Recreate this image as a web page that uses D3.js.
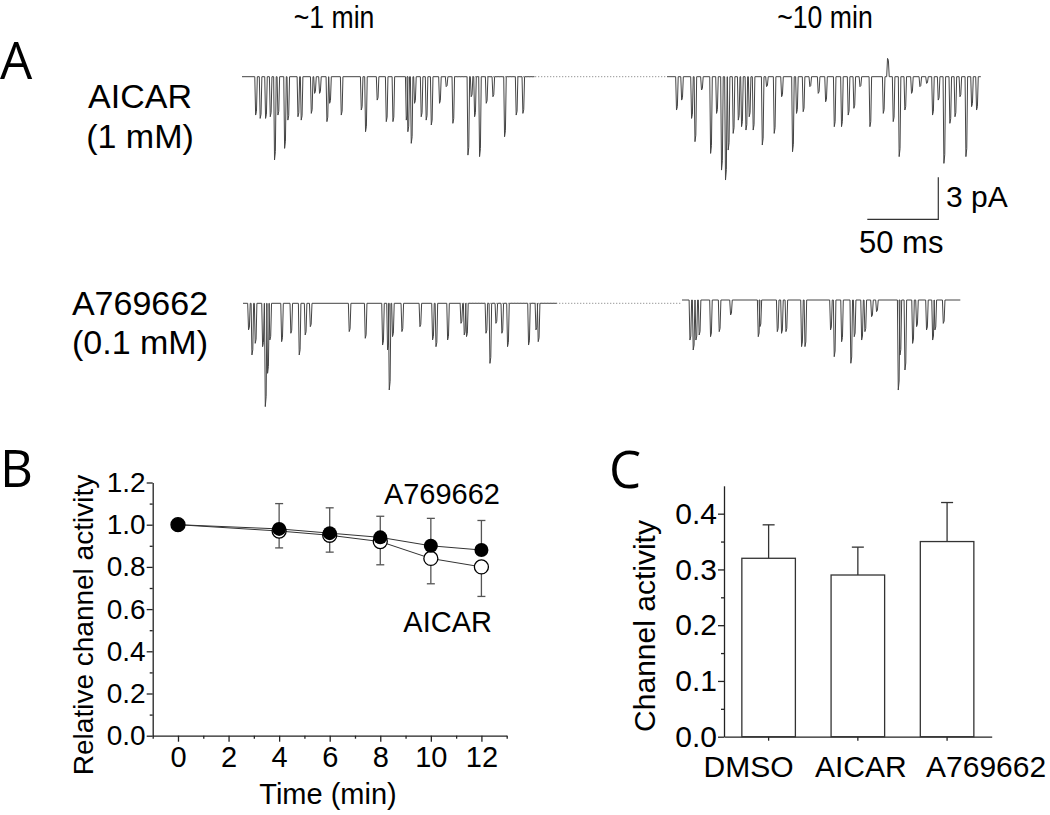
<!DOCTYPE html>
<html>
<head>
<meta charset="utf-8">
<script src="https://cdn.jsdelivr.net/npm/d3@7"></script>
<style>
  body { margin: 0; background: #fff; }
  svg { display: block; }
  text { font-family: "Liberation Sans", Arial, sans-serif; fill: #000; }
</style>
</head>
<body>
<script>
// ---- panel A: single channel traces, spikes as [time ms, amplitude pA] ----
const aicar1min = [[9.9,2.74],[13.1,2.98],[16.9,2.98],[20.2,2.86],[23.2,5.95],[25.6,2.74],[30.3,5.12],[32.6,3.1],
  [39.7,2.86],[42.0,3.1],[49.1,2.62],[51.4,1.19],[54.9,1.19],[60.1,3.21],[62.0,1.9],[70.2,2.74],[84.3,2.38],[87.3,3.93],
  [95.5,1.67],[101.9,3.21],[106.6,3.21],[116.0,3.1],[117.1,3.93],[119.5,4.76],[121.8,1.9],[126.5,2.86],[130.0,3.1],
  [133.6,3.45],[139.4,1.9],[144.1,0.71],[148.8,3.33],[159.4,5.6],[161.7,1.43],[164.1,2.86],[167.6,5.71],[172.3,1.9],
  [177.0,1.43],[185.2,4.29],[193.4,2.74],[198.1,2.62]];
const aicar10min = [[7.0,2.38],[10.6,1.67],[17.6,2.98],[20.0,4.64],[24.6,0.95],[31.0,5.48],[35.2,2.62],[38.7,6.67],
  [41.5,7.38],[43.4,5.24],[46.9,4.05],[50.5,3.1],[52.8,3.57],[55.9,3.81],[58.2,2.86],[61.0,3.81],[67.4,4.88],[70.4,0.71],
  [75.8,4.05],[81.0,1.43],[88.7,5.36],[91.5,2.62],[96.2,2.5],[100.9,0.71],[106.8,1.19],[112.0,1.79],[118.1,3.57],
  [123.2,3.57],[127.9,2.74],[131.9,2.26],[136.2,0.71],[143.2,3.57],[152.6,2.62],[155.6,-1.31],[159.6,3.21],[163.8,5.71],
  [167.8,2.38],[172.5,1.19],[178.4,0.71],[183.1,0.48],[187.3,2.74],[191.3,1.67],[195.3,6.19],[199.5,3.33],[203.1,2.86],
  [206.6,1.43],[210.8,5.71],[214.8,2.14],[218.3,2.38]];
const a769662_1min = [[4.2,1.9],[6.6,3.69],[8.9,2.86],[14.1,3.1],[16.0,7.38],[17.6,5.0],[19.2,2.62],[27.5,2.74],
  [34.0,2.14],[39.9,3.69],[44.1,2.26],[47.7,1.67],[75.1,2.02],[86.4,2.5],[98.6,2.98],[102.1,3.33],[103.3,6.19],
  [105.6,2.38],[112.2,2.02],[124.9,1.67],[133.8,2.62],[136.2,3.1],[144.4,2.62],[153.8,1.43],[156.1,2.26],[157.7,2.38],
  [171.4,2.14],[174.2,4.29],[178.4,1.43],[182.6,2.14],[186.6,3.1],[201.4,2.98],[206.6,1.9],[208.2,2.74]];
const a769662_10min = [[5.9,2.86],[8.2,3.57],[10.1,2.86],[12.4,2.5],[20.4,2.62],[26.5,2.26],[34.5,1.07],[54.0,2.62],
  [55.2,1.9],[67.4,2.26],[70.4,2.38],[73.5,2.26],[84.5,3.33],[86.9,3.33],[104.9,2.14],[107.5,4.05],[112.7,2.98],
  [119.2,4.52],[121.6,2.62],[126.8,2.86],[129.1,2.26],[133.8,1.19],[137.3,0.83],[152.6,6.43],[153.8,3.93],[157.3,5.0],
  [162.7,3.1],[165.5,1.9],[172.5,2.14],[176.8,2.86],[178.4,2.14],[184.3,1.67]];
const traceDurations = [206, 221, 221, 196]; // ms
const traceTitles = ['~1 min', '~10 min'];
const scaleBar = [50, 3]; // ms, pA

// ---- panel B ----
const times = [0, 4, 6, 8, 10, 12];
const a769662Rel = [1.0, 0.98, 0.96, 0.94, 0.90, 0.88];
const a769662Err = [0, 0.12, 0.12, 0.10, 0.13, 0.14];
const aicarRel = [1.0, 0.97, 0.95, 0.92, 0.84, 0.80];
const aicarErr = [0, 0.08, 0.08, 0.11, 0.12, 0.14];
const bYTicks = [0, 0.2, 0.4, 0.6, 0.8, 1.0, 1.2];
const bXTicks = [0, 2, 4, 6, 8, 10, 12];

// ---- panel C ----
const groups = ['DMSO', 'AICAR', 'A769662'];
const activity = [0.32, 0.29, 0.35];
const activityErr = [0.06, 0.05, 0.07];
const cYTicks = [0, 0.1, 0.2, 0.3, 0.4];

const svg = d3.select('body').append('svg').attr('width', 1050).attr('height', 815);

// ================= Panel A =================
const msPx = 1.42, pAPx = 14;
const traces = [
  { data: aicar1min, dur: traceDurations[0], x0: 242, y0: 76.7 },
  { data: aicar10min, dur: traceDurations[1], x0: 667, y0: 76.7 },
  { data: a769662_1min, dur: traceDurations[2], x0: 243, y0: 303.3 },
  { data: a769662_10min, dur: traceDurations[3], x0: 682, y0: 300 },
];

traces.forEach((tr) => {
  tr.x = d3.scaleLinear().domain([0, tr.dur]).range([tr.x0, tr.x0 + tr.dur * msPx]);
  tr.y = d3.scaleLinear().domain([0, -8]).range([tr.y0, tr.y0 + 8 * pAPx]);
  const pts = [[0, 0]];
  tr.data.forEach(([t, a]) => {
    pts.push([t - 0.9, 0], [t - 0.3, -a], [t + 0.3, -a * 0.9], [t + 0.9, 0]);
  });
  pts.push([tr.dur, 0]);
  const line = d3.line().x((d) => tr.x(d[0])).y((d) => tr.y(d[1]));
  svg.append('path').attr('d', line(pts))
    .attr('fill', 'none').attr('stroke', '#444').attr('stroke-width', 1);
});

// dotted connections between the two recording windows
[[0, 1, 141], [2, 3, 153]].forEach(([a, b, t0]) => {
  svg.append('line')
    .attr('x1', traces[a].x(t0)).attr('x2', traces[b].x0)
    .attr('y1', traces[a].y0).attr('y2', traces[a].y0)
    .attr('stroke', '#777').attr('stroke-width', 1).attr('stroke-dasharray', '1,2');
});

svg.append('text').text('A').attr('x', 0).attr('y', 79)
  .style('font-family', '"Open Sans", sans-serif').attr('font-size', 51);

// titles use a condensed face
svg.selectAll('.ttl').data(traceTitles).enter().append('text')
  .text((d) => d)
  .attr('transform', (d, i) => `translate(${[334, 825][i]},28) scale(0.86,1)`)
  .attr('text-anchor', 'middle')
  .attr('font-size', 31);

[['AICAR', 108], ['(1 mM)', 148], ['A769662', 315], ['(0.1 mM)', 354]].forEach(([t, y]) => {
  svg.append('text').text(t).attr('x', 140).attr('y', y)
    .attr('text-anchor', 'middle').attr('font-size', 34);
});

// scale bar
const sbX = 938.3, sbY = 219.3;
svg.append('path')
  .attr('d', `M${sbX - scaleBar[0] * msPx},${sbY}H${sbX}V${sbY - scaleBar[1] * pAPx}`)
  .attr('fill', 'none').attr('stroke', '#333').attr('stroke-width', 1.2);
svg.append('text').text(`${scaleBar[1]} pA`).attr('x', 946).attr('y', 207).attr('font-size', 30);
svg.append('text').text(`${scaleBar[0]} ms`).attr('x', 859).attr('y', 253).attr('font-size', 31);

// ================= Panel B =================
svg.append('text').text('B').attr('x', 0).attr('y', 487)
  .style('font-family', '"Open Sans", sans-serif').attr('font-size', 51);

const xB = d3.scaleLinear().domain([-1, 13]).range([152.7, 506.7]);
const yB = d3.scaleLinear().domain([0, 1.2]).range([735.7, 482.5]);

const gBx = svg.append('g').attr('transform', `translate(0,${yB(0)})`)
  .call(d3.axisBottom(xB).tickValues(bXTicks).tickFormat(d3.format('d')).tickSize(6).tickSizeOuter(0).tickPadding(5));
svg.append('g').attr('transform', `translate(0,${yB(0)})`)
  .call(d3.axisBottom(xB).tickValues(d3.range(-1, 14, 2)).tickFormat('').tickSize(3).tickSizeOuter(0))
  .call((g) => g.select('.domain').remove());
const gBy = svg.append('g').attr('transform', `translate(${xB(-1)},0)`)
  .call(d3.axisLeft(yB).tickValues(bYTicks).tickFormat(d3.format('.1f')).tickSize(6).tickSizeOuter(0).tickPadding(1));
svg.append('g').attr('transform', `translate(${xB(-1)},0)`)
  .call(d3.axisLeft(yB).tickValues(d3.range(0.1, 1.2, 0.2)).tickFormat('').tickSize(3).tickSizeOuter(0))
  .call((g) => g.select('.domain').remove());

[gBx, gBy].forEach((g) => {
  g.selectAll('text').attr('font-size', 29).style('font-family', '"Liberation Sans", Arial, sans-serif').attr('fill', '#000');
  g.selectAll('line,path').attr('stroke', '#222').attr('stroke-width', 1.3);
});
gBy.selectAll('text').attr('font-size', 28);
svg.selectAll('g.tick line').attr('stroke', '#222').attr('stroke-width', 1.3);

svg.append('text').text('Time (min)').attr('x', 328).attr('y', 804)
  .attr('text-anchor', 'middle').attr('font-size', 29);
svg.append('text').text('Relative channel activity')
  .attr('transform', 'translate(93,625) rotate(-90)')
  .attr('text-anchor', 'middle').attr('font-size', 28);

const ptsB = times.map((t, i) => ({ t, a: a769662Rel[i], ae: a769662Err[i], c: aicarRel[i], ce: aicarErr[i] }));

// error bars: A769662 upward, AICAR downward
const errG = svg.append('g').attr('stroke', '#555').attr('stroke-width', 1.3);
ptsB.filter((d) => d.ae > 0).forEach((d) => {
  errG.append('line').attr('x1', xB(d.t)).attr('x2', xB(d.t)).attr('y1', yB(d.a)).attr('y2', yB(d.a + d.ae));
  errG.append('line').attr('x1', xB(d.t) - 4).attr('x2', xB(d.t) + 4).attr('y1', yB(d.a + d.ae)).attr('y2', yB(d.a + d.ae));
});
ptsB.filter((d) => d.ce > 0).forEach((d) => {
  errG.append('line').attr('x1', xB(d.t)).attr('x2', xB(d.t)).attr('y1', yB(d.c)).attr('y2', yB(d.c - d.ce));
  errG.append('line').attr('x1', xB(d.t) - 4).attr('x2', xB(d.t) + 4).attr('y1', yB(d.c - d.ce)).attr('y2', yB(d.c - d.ce));
});

const lineA = d3.line().x((d) => xB(d.t)).y((d) => yB(d.a));
const lineC = d3.line().x((d) => xB(d.t)).y((d) => yB(d.c));
svg.append('path').attr('d', lineC(ptsB)).attr('fill', 'none').attr('stroke', '#333').attr('stroke-width', 1);
svg.append('path').attr('d', lineA(ptsB)).attr('fill', 'none').attr('stroke', '#333').attr('stroke-width', 1);

svg.append('g').selectAll('circle').data(ptsB).enter().append('circle')
  .attr('cx', (d) => xB(d.t)).attr('cy', (d) => yB(d.c)).attr('r', 7)
  .attr('fill', '#fff').attr('stroke', '#000').attr('stroke-width', 1.3);
svg.append('g').selectAll('circle').data(ptsB).enter().append('circle')
  .attr('cx', (d) => xB(d.t)).attr('cy', (d) => yB(d.a)).attr('r', 7)
  .attr('fill', '#000');

svg.append('text').text('A769662').attr('x', 500).attr('y', 504).attr('text-anchor', 'end').attr('font-size', 29);
svg.append('text').text('AICAR').attr('x', 492).attr('y', 632).attr('text-anchor', 'end').attr('font-size', 29);

// ================= Panel C =================
svg.append('text').text('C').attr('x', 609).attr('y', 488)
  .style('font-family', '"Open Sans", sans-serif').attr('font-size', 51);

const xC = d3.scaleBand().domain(groups).range([724, 991.7]).paddingInner(0.4).paddingOuter(0.2);
const yC = d3.scaleLinear().domain([0, 0.45]).range([736.7, 485.8]);

const gCx = svg.append('g').attr('transform', `translate(0,${yC(0)})`)
  .call(d3.axisBottom(xC).tickSize(4).tickSizeOuter(0).tickPadding(15));
const gCy = svg.append('g').attr('transform', `translate(${xC.range()[0]},0)`)
  .call(d3.axisLeft(yC).tickValues(cYTicks).tickFormat(d3.format('.1f')).tickSize(6).tickSizeOuter(0).tickPadding(1));
svg.append('g').attr('transform', `translate(${xC.range()[0]},0)`)
  .call(d3.axisLeft(yC).tickValues([0.05, 0.15, 0.25, 0.35]).tickFormat('').tickSize(3).tickSizeOuter(0))
  .call((g) => g.select('.domain').remove());
[gCx, gCy].forEach((g) => {
  g.selectAll('text').attr('font-size', 30).style('font-family', '"Liberation Sans", Arial, sans-serif').attr('fill', '#000');
  g.selectAll('line,path').attr('stroke', '#222').attr('stroke-width', 1.3);
});
// category labels sit spread out under the bars, as in the original figure
gCx.selectAll('.tick text').attr('dx', (d, i) => [-20, 3, 39][i]);
svg.selectAll('g.tick line').attr('stroke', '#222').attr('stroke-width', 1.3);

svg.append('text').text('Channel activity')
  .attr('transform', 'translate(655,626) rotate(-90)')
  .attr('text-anchor', 'middle').attr('font-size', 30);

const barData = groups.map((g, i) => ({ g, v: activity[i], e: activityErr[i] }));
const cErr = svg.append('g').attr('stroke', '#333').attr('stroke-width', 1.3);
barData.forEach((d) => {
  const cx = xC(d.g) + xC.bandwidth() / 2;
  cErr.append('line').attr('x1', cx).attr('x2', cx).attr('y1', yC(d.v)).attr('y2', yC(d.v + d.e));
  cErr.append('line').attr('x1', cx - 6).attr('x2', cx + 6).attr('y1', yC(d.v + d.e)).attr('y2', yC(d.v + d.e));
});
svg.append('g').selectAll('rect').data(barData).enter().append('rect')
  .attr('x', (d) => xC(d.g)).attr('width', xC.bandwidth())
  .attr('y', (d) => yC(d.v)).attr('height', (d) => yC(0) - yC(d.v))
  .attr('fill', '#fff').attr('stroke', '#333').attr('stroke-width', 1.3);
</script>
</body>
</html>
